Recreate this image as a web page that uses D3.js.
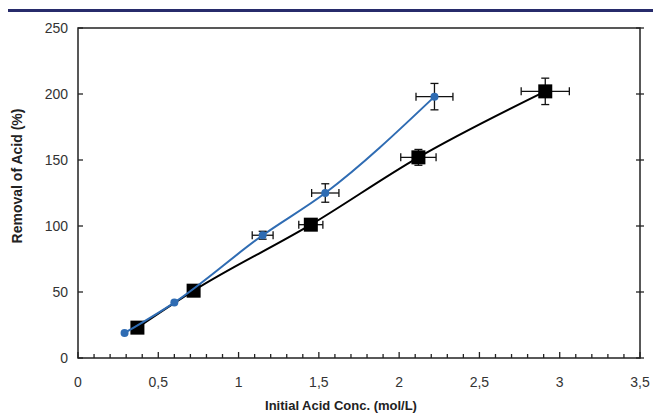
<!DOCTYPE html>
<html>
<head>
<meta charset="utf-8">
<script src="https://cdn.jsdelivr.net/npm/d3@7"></script>
<style>
  body { margin: 0; background: #fff; }
  svg { display: block; font-family: "Liberation Sans", Arial, sans-serif; }
</style>
</head>
<body>
<svg id="chart" width="653" height="416"></svg>
<script>
// blue series (circles)
const blue_x = [0.29, 0.60, 1.15, 1.54, 2.22];
const blue_y = [19, 42, 93, 125, 198];
const blue_ex = [0, 0, 0.065, 0.085, 0.115];
const blue_ey = [0, 0, 3, 7, 10];

// black series (squares)
const black_x = [0.37, 0.72, 1.45, 2.12, 2.91];
const black_y = [23, 51, 101, 152, 202];
const black_ex = [0, 0, 0.075, 0.11, 0.15];
const black_ey = [0, 0, 3, 6, 10];

const x_ticks = [0, 0.5, 1, 1.5, 2, 2.5, 3, 3.5];
const y_ticks = [0, 50, 100, 150, 200, 250];

const svg = d3.select("#chart");
const margin = {left: 78, right: 13, top: 28, bottom: 58};
const width = +svg.attr("width"), height = +svg.attr("height");

const x = d3.scaleLinear().domain([0, 3.5]).range([margin.left, width - margin.right]);
const y = d3.scaleLinear().domain([0, 250]).range([height - margin.bottom, margin.top]);

// navy rule at the top
svg.append("rect")
    .attr("x", 8).attr("y", 9)
    .attr("width", width - 8).attr("height", 3)
    .attr("fill", "#272b6b");

// plot frame
svg.append("rect")
    .attr("x", x(0)).attr("y", y(250))
    .attr("width", x(3.5) - x(0)).attr("height", y(0) - y(250))
    .attr("fill", "none").attr("stroke", "#222").attr("stroke-width", 1.5);

// minor x ticks (inside)
const minor = d3.range(0, 36).map(d => d / 10);
svg.append("g").selectAll("line")
    .data(minor)
    .enter().append("line")
    .attr("x1", d => x(d)).attr("x2", d => x(d))
    .attr("y1", y(0)).attr("y2", (d, i) => y(0) - (i % 5 === 0 ? 6 : 4))
    .attr("stroke", "#222").attr("stroke-width", 1.3);

// x axis labels
svg.append("g").selectAll("text")
    .data(x_ticks)
    .enter().append("text")
    .attr("x", d => x(d)).attr("y", y(0) + 29)
    .attr("text-anchor", "middle")
    .style("font-size", "14px").style("fill", "#333")
    .text(d => String(d).replace(".", ","));

// y ticks left (inside) and right (crossing)
svg.append("g").selectAll("line")
    .data(y_ticks)
    .enter().append("line")
    .attr("x1", x(0)).attr("x2", x(0) + 5)
    .attr("y1", d => y(d)).attr("y2", d => y(d))
    .attr("stroke", "#222").attr("stroke-width", 1.3);
svg.append("g").selectAll("line")
    .data(y_ticks)
    .enter().append("line")
    .attr("x1", x(3.5) - 4).attr("x2", x(3.5) + 4)
    .attr("y1", d => y(d)).attr("y2", d => y(d))
    .attr("stroke", "#222").attr("stroke-width", 1.3);

svg.append("g").selectAll("text")
    .data(y_ticks)
    .enter().append("text")
    .attr("x", x(0) - 10).attr("y", d => y(d) + 5)
    .attr("text-anchor", "end")
    .style("font-size", "14px").style("fill", "#333")
    .text(d => d);

// axis titles
svg.append("text")
    .attr("x", 341).attr("y", 410)
    .attr("text-anchor", "middle")
    .style("font-size", "13px").style("font-weight", "bold").style("fill", "#222")
    .text("Initial Acid Conc. (mol/L)");

svg.append("text")
    .attr("transform", "translate(22," + 176 + ") rotate(-90)")
    .attr("text-anchor", "middle")
    .style("font-size", "14px").style("font-weight", "bold").style("fill", "#222")
    .text("Removal of Acid (%)");

function series(xs, ys, exs, eys, color, shape) {
    const pts = xs.map((d, i) => ({x: d, y: ys[i], ex: exs[i], ey: eys[i]}));
    const line = d3.line().x(d => x(d.x)).y(d => y(d.y)).curve(d3.curveMonotoneX);
    svg.append("path")
        .datum(pts)
        .attr("d", line)
        .attr("fill", "none").attr("stroke", color).attr("stroke-width", 2);

    const eb = svg.append("g").attr("stroke", "#111").attr("stroke-width", 1.3);
    pts.filter(d => d.ex > 0).forEach(d => {
        eb.append("line").attr("x1", x(d.x - d.ex)).attr("x2", x(d.x + d.ex))
            .attr("y1", y(d.y)).attr("y2", y(d.y));
        eb.append("line").attr("x1", x(d.x - d.ex)).attr("x2", x(d.x - d.ex))
            .attr("y1", y(d.y) - 4).attr("y2", y(d.y) + 4);
        eb.append("line").attr("x1", x(d.x + d.ex)).attr("x2", x(d.x + d.ex))
            .attr("y1", y(d.y) - 4).attr("y2", y(d.y) + 4);
        eb.append("line").attr("x1", x(d.x)).attr("x2", x(d.x))
            .attr("y1", y(d.y - d.ey)).attr("y2", y(d.y + d.ey));
        eb.append("line").attr("x1", x(d.x) - 4).attr("x2", x(d.x) + 4)
            .attr("y1", y(d.y - d.ey)).attr("y2", y(d.y - d.ey));
        eb.append("line").attr("x1", x(d.x) - 4).attr("x2", x(d.x) + 4)
            .attr("y1", y(d.y + d.ey)).attr("y2", y(d.y + d.ey));
    });

    if (shape === "square") {
        svg.append("g").selectAll("rect")
            .data(pts).enter().append("rect")
            .attr("x", d => x(d.x) - 7).attr("y", d => y(d.y) - 7)
            .attr("width", 14).attr("height", 14)
            .attr("fill", color);
    } else {
        svg.append("g").selectAll("circle")
            .data(pts).enter().append("circle")
            .attr("cx", d => x(d.x)).attr("cy", d => y(d.y))
            .attr("r", 4)
            .attr("fill", color);
    }
}

series(black_x, black_y, black_ex, black_ey, "#000", "square");
series(blue_x, blue_y, blue_ex, blue_ey, "#2f6cb3", "circle");
</script>
</body>
</html>
